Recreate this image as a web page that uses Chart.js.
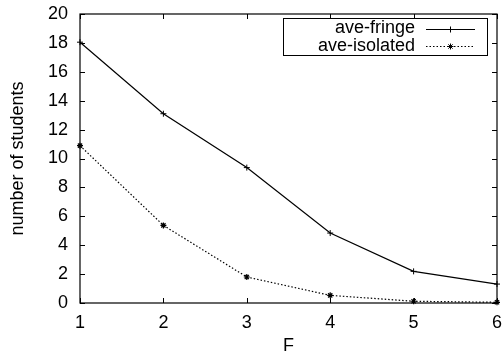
<!DOCTYPE html>
<html><head><meta charset="utf-8">
<script src="https://cdn.jsdelivr.net/npm/chart.js@4/dist/chart.umd.min.js"></script>
<style>html,body{margin:0;padding:0;background:#fff;}canvas{display:block}</style>
</head><body>
<canvas id="c" width="503" height="358"></canvas>
<script>
// ---- data ----
const categories = [1, 2, 3, 4, 5, 6];
const fringeValues = [18.05, 13.1, 9.37, 4.84, 2.19, 1.31];
const isolatedValues = [10.89, 5.37, 1.8, 0.53, 0.12, 0.05];
const seriesLabels = ['ave-fringe', 'ave-isolated'];
const yTickValues = [0, 2, 4, 6, 8, 10, 12, 14, 16, 18, 20];
const xTickValues = [1, 2, 3, 4, 5, 6];
const xTitle = 'F';
const yTitle = 'number of students';

const FONT = 'Liberation Sans, Arial, Helvetica, sans-serif';
const toPts = vals => categories.map((c, i) => ({x: c, y: vals[i]}));

function drawMarker(ctx, style, x, y, r) {
  ctx.beginPath();
  ctx.moveTo(x - r, y); ctx.lineTo(x + r, y);
  ctx.moveTo(x, y - r); ctx.lineTo(x, y + r);
  if (style === 'star') {
    const d = r * 0.72;
    ctx.moveTo(x - d, y - d); ctx.lineTo(x + d, y + d);
    ctx.moveTo(x - d, y + d); ctx.lineTo(x + d, y - d);
  }
  ctx.stroke();
}

const framePlugin = {
  id: 'framePlugin',
  afterDatasetsDraw(chart) {
    const {ctx, chartArea: a, scales} = chart;
    ctx.save();
    ctx.strokeStyle = '#000';
    ctx.lineWidth = 1.2;
    ctx.setLineDash([]);
    ctx.strokeRect(a.left, a.top, a.right - a.left, a.bottom - a.top);
    ctx.lineWidth = 1;
    const tl = 5;
    ctx.beginPath();
    yTickValues.forEach(v => {
      const y = Math.round(scales.y.getPixelForValue(v)) + 0.5;
      ctx.moveTo(a.left, y); ctx.lineTo(a.left + tl, y);
      ctx.moveTo(a.right, y); ctx.lineTo(a.right - tl, y);
    });
    xTickValues.forEach(v => {
      const x = Math.round(scales.x.getPixelForValue(v)) + 0.5;
      ctx.moveTo(x, a.bottom); ctx.lineTo(x, a.bottom - tl);
      ctx.moveTo(x, a.top); ctx.lineTo(x, a.top + tl);
    });
    ctx.stroke();

    // legend box (gnuplot style)
    const bx = 283, by = 18, bw = 204, bh = 37;
    ctx.strokeRect(bx + 0.5, by + 0.5, bw, bh);
    ctx.font = '18px ' + FONT;
    ctx.fillStyle = '#000';
    ctx.textAlign = 'right';
    ctx.textBaseline = 'middle';
    chart.data.datasets.forEach((ds, i) => {
      const ly = 28.5 + i * 17.5;
      ctx.fillText(ds.label, 415, ly);
      ctx.lineWidth = 1;
      ctx.setLineDash(ds.borderDash || []);
      ctx.beginPath();
      ctx.moveTo(426, Math.round(ly) + 0.5); ctx.lineTo(475, Math.round(ly) + 0.5);
      ctx.stroke();
      ctx.setLineDash([]);
      drawMarker(ctx, ds.pointStyle, 450.5, Math.round(ly) + 0.5, 3);
    });
    ctx.restore();
  }
};

new Chart(document.getElementById('c'), {
  type: 'line',
  data: {
    datasets: [
      {label: seriesLabels[0], data: toPts(fringeValues), borderColor: '#000', backgroundColor: '#000',
       borderWidth: 1.2, pointStyle: 'cross', pointRadius: 3, pointBorderWidth: 1, tension: 0, fill: false},
      {label: seriesLabels[1], data: toPts(isolatedValues), borderColor: '#000', backgroundColor: '#000',
       borderWidth: 1.2, borderDash: [1.5, 2], pointStyle: 'star', pointRadius: 3, pointBorderWidth: 1.2, tension: 0, fill: false}
    ]
  },
  options: {
    responsive: false,
    animation: false,
    devicePixelRatio: 1,
    clip: false,
    layout: {padding: {left: 0, top: 14, right: 6, bottom: 0}},
    plugins: {legend: {display: false}, tooltip: {enabled: false}},
    scales: {
      x: {
        type: 'linear', min: 1, max: 6,
        afterBuildTicks: s => { s.ticks = xTickValues.map(v => ({value: v})); },
        ticks: {font: {family: FONT, size: 18}, color: '#000', padding: 9, maxRotation: 0},
        grid: {display: false, drawTicks: false}, border: {display: false},
        title: {display: true, text: xTitle, font: {family: FONT, size: 18}, color: '#000', padding: {top: 0, bottom: 1}},
        afterFit: s => { s.height = 55; s.paddingLeft = 0; s.paddingRight = 0; s.paddingTop = 0; s.paddingBottom = 0; }
      },
      y: {
        min: 0, max: 20,
        afterBuildTicks: s => { s.ticks = yTickValues.map(v => ({value: v})); },
        ticks: {font: {family: FONT, size: 18}, color: '#000', padding: 12},
        grid: {display: false, drawTicks: false}, border: {display: false},
        title: {display: true, text: yTitle, font: {family: FONT, size: 18}, color: '#000', padding: {top: 7, bottom: 0}},
        afterFit: s => { s.width = 80; s.paddingLeft = 0; s.paddingRight = 0; s.paddingTop = 0; s.paddingBottom = 0; }
      }
    }
  },
  plugins: [framePlugin]
});
</script>
</body></html>
